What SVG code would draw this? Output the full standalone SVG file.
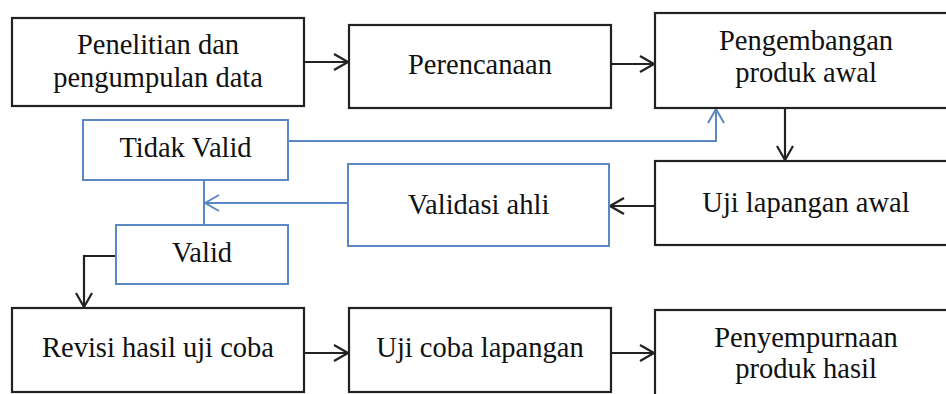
<svg xmlns="http://www.w3.org/2000/svg" width="946" height="394" viewBox="0 0 946 394">
<style>
.box{fill:#fff;stroke:#222;stroke-width:2.2}
.bbox{fill:#fff;stroke:#5b87c2;stroke-width:2}
.t{font-family:"Liberation Serif","Times New Roman",serif;font-size:28.5px;fill:#111;text-anchor:middle}
.c{fill:none;stroke:#222;stroke-width:2.2}
.cb{fill:none;stroke:#5b87c2;stroke-width:2}
</style>
<defs>
<marker id="ak" viewBox="0 0 16 18" refX="15" refY="9" markerWidth="16" markerHeight="18" markerUnits="userSpaceOnUse" orient="auto">
<path d="M1,1 L15,9 L1,17" fill="none" stroke="#222" stroke-width="2.2"/>
</marker>
<marker id="ab" viewBox="0 0 16 18" refX="15" refY="9" markerWidth="16" markerHeight="18" markerUnits="userSpaceOnUse" orient="auto">
<path d="M1,1 L15,9 L1,17" fill="none" stroke="#5b87c2" stroke-width="2"/>
</marker>
</defs>
<rect width="946" height="394" fill="#fff"/>
<g id="connectors">
<path class="c" d="M304,62 H348" marker-end="url(#ak)"/>
<path class="c" d="M611,64 H654" marker-end="url(#ak)"/>
<path class="c" d="M785,108 V160" marker-end="url(#ak)"/>
<path class="c" d="M655,206 H610" marker-end="url(#ak)"/>
<path class="cb" d="M348,203 H205" marker-end="url(#ab)"/>
<path class="cb" d="M288,141 H716 V109" marker-end="url(#ab)"/>
<path class="cb" d="M204,180 V225"/>
<path class="c" d="M116,256 H84 V307" marker-end="url(#ak)"/>
<path class="c" d="M304,353 H348" marker-end="url(#ak)"/>
<path class="c" d="M611,353 H654" marker-end="url(#ak)"/>
</g>
<g id="penelitian">
<rect class="box" x="12" y="18" width="292" height="88"/>
<text class="t" x="158" y="54">Penelitian dan</text>
<text class="t" x="158" y="87">pengumpulan data</text>
</g>
<g id="perencanaan">
<rect class="box" x="349" y="25" width="262" height="83"/>
<text class="t" x="480" y="74">Perencanaan</text>
</g>
<g id="pengembangan">
<rect class="box" x="655" y="13" width="303" height="95"/>
<text class="t" x="806" y="50">Pengembangan</text>
<text class="t" x="806" y="82">produk awal</text>
</g>
<g id="uji-lapangan-awal">
<rect class="box" x="655" y="161" width="303" height="84"/>
<text class="t" x="806" y="212">Uji lapangan awal</text>
</g>
<g id="tidak-valid">
<rect class="bbox" x="83" y="120" width="205" height="60"/>
<text class="t" x="185.5" y="157">Tidak Valid</text>
</g>
<g id="validasi-ahli">
<rect class="bbox" x="348" y="164" width="261" height="82"/>
<text class="t" x="478.5" y="214">Validasi ahli</text>
</g>
<g id="valid">
<rect class="bbox" x="116" y="225" width="172" height="59"/>
<text class="t" x="202" y="262">Valid</text>
</g>
<g id="revisi">
<rect class="box" x="12" y="308" width="292" height="84"/>
<text class="t" x="158" y="357">Revisi hasil uji coba</text>
</g>
<g id="uji-coba-lapangan">
<rect class="box" x="349" y="308" width="262" height="84"/>
<text class="t" x="480" y="357">Uji coba lapangan</text>
</g>
<g id="penyempurnaan">
<rect class="box" x="655" y="310" width="303" height="100"/>
<text class="t" x="806" y="347">Penyempurnaan</text>
<text class="t" x="806" y="378">produk hasil</text>
</g>
</svg>
